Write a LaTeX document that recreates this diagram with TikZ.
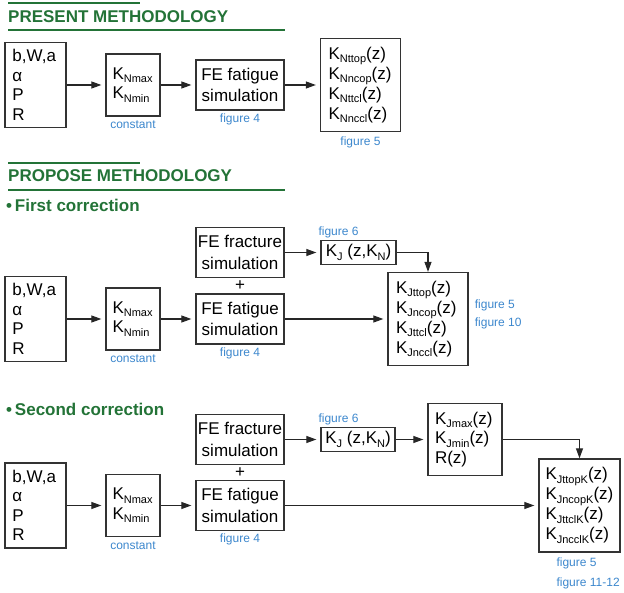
\documentclass[tikz,border=0pt]{standalone}
\usepackage{fontspec}
\setmainfont{Liberation Sans}
\usepackage{tikz}
\usetikzlibrary{arrows.meta,positioning,calc}
\definecolor{headgreen}{RGB}{35,115,55}
\definecolor{figblue}{RGB}{60,135,205}
\newcommand{\Kx}[1]{K\raisebox{-3.5pt}{\fontsize{11}{11}\selectfont #1}}

\begin{document}
\begin{tikzpicture}[
   x=1pt,y=-1pt,
   font=\fontsize{17}{19.5}\selectfont,
   box/.style={draw=black!80,line width=1.3pt,inner sep=0pt},
   inbox/.style={box,minimum width=61pt,minimum height=85pt,text width=46pt,align=left},
   kbox/.style={box,minimum width=54pt,minimum height=62pt,text width=41pt,align=left},
   fe/.style={box,minimum width=88pt,minimum height=50pt,align=center,font=\fontsize{17}{21.5}\selectfont},
   res/.style={box,minimum height=93pt,align=left,font=\fontsize{17}{20}\selectfont},
   kj/.style={box,minimum width=75pt,minimum height=24pt},
   lbl/.style={text=figblue,font=\fontsize{12}{20}\selectfont,inner sep=1pt},
   head/.style={text=headgreen,font=\bfseries\fontsize{17}{20}\selectfont,anchor=west,inner sep=0pt},
   rule/.style={headgreen,line width=1.5pt},
   to/.style={-{Triangle[length=10pt,width=7pt]},line width=1.1pt,black!85,shorten >=4pt}]
\useasboundingbox (0,0) rectangle (624,593);
\draw[rule] (8,3) -- (140,3);
\node[head] (titleA) at (8,17) {PRESENT METHODOLOGY};
\draw[rule] (8,30) -- (285,30);
\node[inbox] (inA) at (35.5,85) {b,W,a\\α\\P\\R};
\node[kbox] (knA) at (133,85) {\Kx{Nmax}\\\Kx{Nmin}};
\node[fe] (fatA) at (240,85) {FE fatigue\\simulation};
\node[res,minimum width=80pt,text width=64pt] (resA) at (360.5,85) {\Kx{Nttop}(z)\\\Kx{Nncop}(z)\\\Kx{Nttcl}(z)\\\Kx{Nnccl}(z)};
\node[lbl,below=3pt of knA] (cstA) {constant};
\node[lbl,below=1.5pt of fatA] (figA4) {figure 4};
\node[lbl,below=3pt of resA] (figA5) {figure 5};
\draw[to] (inA) -- (knA);
\draw[to] (knA) -- (fatA);
\draw[to] (fatA) -- (resA);

\draw[rule] (8,163) -- (140,163);
\node[head] (titleB) at (8,176) {PROPOSE METHODOLOGY};
\draw[rule] (8,190) -- (285,190);
\node[head] (corrB) at (6,205) {\textbullet\,First correction};
\node[inbox] (inB) at (35.5,319) {b,W,a\\α\\P\\R};
\node[kbox] (knB) at (133,319) {\Kx{Nmax}\\\Kx{Nmin}};
\node[fe] (fracB) at (240,252.5) {FE fracture\\simulation};
\node[fe] (fatB) at (240,319) {FE fatigue\\simulation};
\node (plusB) at ($(fracB.south)!.5!(fatB.north)$) {+};
\node[kj] (kjB) at (358.5,252.5) {\Kx{J} (z,\Kx{N})};
\node[res,minimum width=80pt,text width=64pt] (resB) at (428,319) {\Kx{Jttop}(z)\\\Kx{Jncop}(z)\\\Kx{Jttcl}(z)\\\Kx{Jnccl}(z)};
\node[lbl,below=3pt of knB] (cstB) {constant};
\node[lbl,below=1.5pt of fatB] (figB4) {figure 4};
\node[lbl,anchor=south west] (figB6) at ([xshift=-3pt,yshift=1pt]kjB.north west) {figure 6};
\node[lbl,right=5pt of resB,yshift=4.5pt,align=left,font=\fontsize{12}{18}\selectfont] (figB5) {figure 5\\figure 10};
\draw[to] (inB) -- (knB);
\draw[to] (knB) -- (fatB);
\draw[to] (fracB) -- (kjB);
\draw[to,shorten >=0pt] (kjB.east) -| (resB.north);
\draw[to] (fatB) -- (resB);

\node[head] (corrC) at (6,409) {\textbullet\,Second correction};
\node[inbox] (inC) at (35.5,505.5) {b,W,a\\α\\P\\R};
\node[kbox] (knC) at (133,505.5) {\Kx{Nmax}\\\Kx{Nmin}};
\node[fe] (fracC) at (240,439.5) {FE fracture\\simulation};
\node[fe] (fatC) at (240,505.5) {FE fatigue\\simulation};
\node (plusC) at ($(fracC.south)!.5!(fatC.north)$) {+};
\node[kj,minimum width=74pt] (kjC) at (358,439.5) {\Kx{J} (z,\Kx{N})};
\node[box,minimum width=74pt,minimum height=72pt,text width=60pt,align=left] (kmC) at (465,439.5) {\Kx{Jmax}(z)\\\Kx{Jmin}(z)\\R(z)};
\node[res,minimum width=81pt,text width=68pt] (resC) at (579.5,505.5) {\Kx{JttopK}(z)\\\Kx{JncopK}(z)\\\Kx{JttclK}(z)\\\Kx{JncclK}(z)};
\node[lbl,below=3pt of knC] (cstC) {constant};
\node[lbl,below=1.5pt of fatC] (figC4) {figure 4};
\node[lbl,anchor=south west] (figC6) at ([xshift=-3pt,yshift=1pt]kjC.north west) {figure 6};
\node[lbl,anchor=north west,align=left] (figC5) at ([xshift=17pt,yshift=-4pt]resC.south west) {figure 5\\figure 11-12};
\draw[to] (inC) -- (knC);
\draw[to] (knC) -- (fatC);
\draw[to] (fracC) -- (kjC);
\draw[to] (kjC) -- (kmC);
\draw[to,shorten >=0pt] (kmC.east) -| (resC.north);
\draw[to] (fatC) -- (resC);
\end{tikzpicture}
\end{document}
